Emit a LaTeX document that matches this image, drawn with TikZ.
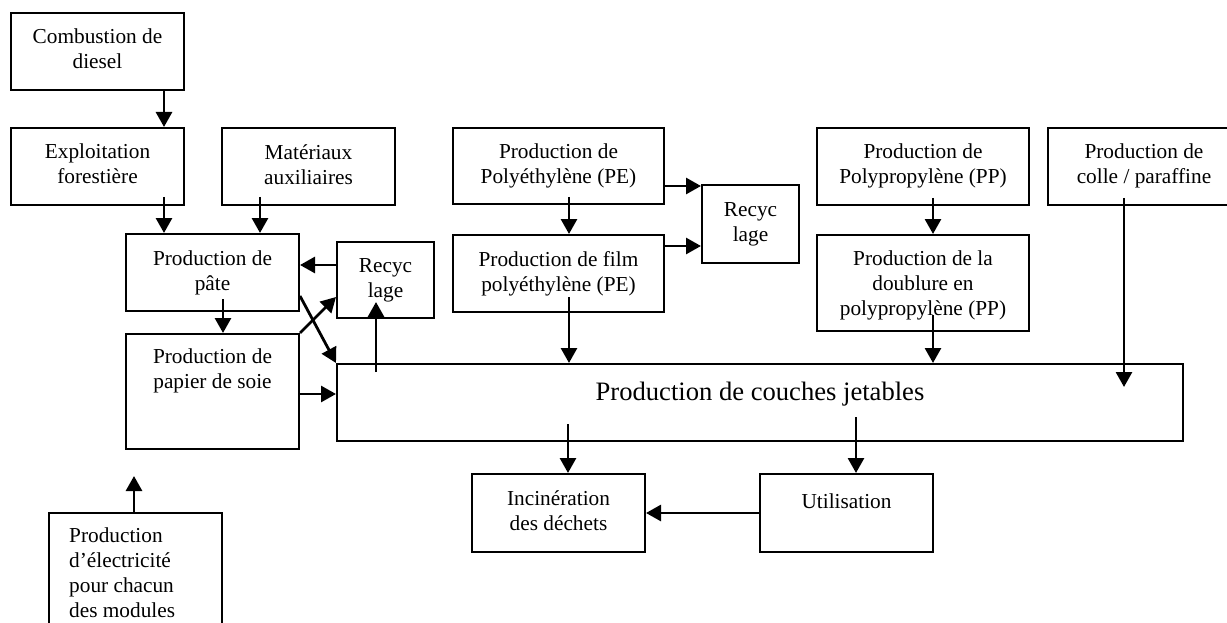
\documentclass[tikz,border=0pt]{standalone}
\usepackage{fontspec}
\setmainfont{Liberation Serif}
\usetikzlibrary{arrows.meta,calc}
\begin{document}
\begin{tikzpicture}[x=1pt,y=-1pt,
  box/.style={draw, line width=2pt, rectangle, anchor=north west, inner sep=0pt},
  lbl/.style={inner sep=0pt, align=center, anchor=north,
    font=\fontsize{21.3pt}{25pt}\selectfont, execute at begin node={\rule{0pt}{18pt}}},
  lbll/.style={lbl, align=left, anchor=north west},
  big/.style={inner sep=0pt, anchor=base, font=\fontsize{26.6pt}{31pt}\selectfont},
  arr/.style={line width=2.8pt, -{Triangle[length=15pt,width=16pt]}}]

% page frame
\path[use as bounding box, clip] (0,0) rectangle (1227,623);
\fill[white] (0,0) rectangle (1227,623);

% process boxes
\node[box, minimum width=173pt, minimum height=77pt]  (diesel)   at (10,12)   {};
\node[box, minimum width=173pt, minimum height=77pt]  (exploit)  at (10,127)  {};
\node[box, minimum width=173pt, minimum height=77pt]  (aux)      at (221,127) {};
\node[box, minimum width=173pt, minimum height=77pt]  (pate)     at (125,233) {};
\node[box, minimum width=173pt, minimum height=115pt] (papier)   at (125,333) {};
\node[box, minimum width=97pt,  minimum height=76pt]  (recyc1)   at (336,241) {};
\node[box, minimum width=211pt, minimum height=76pt]  (pe)       at (452,127) {};
\node[box, minimum width=211pt, minimum height=77pt]  (film)     at (452,234) {};
\node[box, minimum width=97pt,  minimum height=78pt]  (recyc2)   at (701,184) {};
\node[box, minimum width=212pt, minimum height=77pt]  (pp)       at (816,127) {};
\node[box, minimum width=212pt, minimum height=96pt]  (doublure) at (816,234) {};
\node[box, minimum width=192pt, minimum height=77pt]  (colle)    at (1047,127) {};
\node[box, minimum width=846pt, minimum height=77pt]  (couches)  at (336,363) {};
\node[box, minimum width=173pt, minimum height=78pt]  (incin)    at (471,473) {};
\node[box, minimum width=173pt, minimum height=78pt]  (util)     at (759,473) {};
\node[box, minimum width=173pt, minimum height=130pt] (elec)     at (48,512)  {};

% box texts
\node[lbl] (dieselT)   at ($(diesel.north)+(0,17)$)   {Combustion de\\diesel};
\node[lbl] (exploitT)  at ($(exploit.north)+(0,17)$)  {Exploitation\\forestière};
\node[lbl] (auxT)      at ($(aux.north)+(0,17)$)      {Matériaux\\auxiliaires};
\node[lbl] (pateT)     at ($(pate.north)+(0,17.5)$)   {Production de\\pâte};
\node[lbl] (papierT)   at ($(papier.north)+(0,16)$)   {Production de\\papier de soie};
\node[lbl] (recyc1T)   at ($(recyc1.north)+(0,17)$)   {Recyc\\lage};
\node[lbl] (peT)       at ($(pe.north)+(0,17)$)       {Production de\\Polyéthylène (PE)};
\node[lbl] (filmT)     at ($(film.north)+(0,17.5)$)   {Production de film\\polyéthylène (PE)};
\node[lbl] (recyc2T)   at ($(recyc2.north)+(0,18.5)$) {Recyc\\lage};
\node[lbl] (ppT)       at ($(pp.north)+(0,17)$)       {Production de\\Polypropylène (PP)};
\node[lbl] (doublureT) at ($(doublure.north)+(0,17)$) {Production de la\\doublure en\\polypropylène (PP)};
\node[lbl] (colleT)    at ($(colle.north)+(0,17)$)    {Production de\\colle / paraffine};
\node[big] (couchesT)  at ($(couches.north)+(0,37)$)  {Production de couches jetables};
\node[lbl] (incinT)    at ($(incin.north)+(0,17)$)    {Incinération\\des déchets};
\node[lbl] (utilT)     at ($(util.north)+(0,17)$)     {Utilisation};
\node[lbll] (elecT)    at ($(elec.north west)+(21,16)$) {Production\\d’électricité\\pour chacun\\des modules};

% flows
\draw[arr] ($(diesel.south)+(66.5,0)$) -- ($(exploit.north)+(66.5,0)$);
\draw[arr] ($(exploit.south)+(66.5,-9)$) -- ($(pate.north)+(-48.5,0)$);
\draw[arr] ($(aux.south)+(-48.5,-9)$) -- ($(pate.north)+(47.5,0)$);
\draw[arr] ($(pate.south)+(10.5,-13)$) -- ($(papier.north)+(10.5,0)$);
\draw[arr] ($(recyc1.west)+(0,-15)$) -- ($(pate.east)+(0,-7.5)$);
\draw[arr] (papier.north east) -- ($(recyc1.west)+(0,17)$);
\draw[arr] ($(pate.east)+(0,23.5)$) -- (couches.north west);
\draw[arr] ($(papier.east)+(0,2.5)$) -- ($(couches.west)+(0,-8.5)$);
\draw[arr] ($(couches.north)+(-384,9)$) -- ($(recyc1.south)+(-9.5,-17)$);
\draw[arr] ($(pe.south)+(10.5,-8)$) -- ($(film.north)+(10.5,0)$);
\draw[arr] ($(pe.east)+(0,20)$) -- ($(recyc2.west)+(0,-38)$);
\draw[arr] ($(film.east)+(0,-27.5)$) -- ($(recyc2.west)+(0,22)$);
\draw[arr] ($(film.south)+(10.5,-16)$) -- ($(couches.north)+(-191,0)$);
\draw[arr] ($(pp.south)+(10,-8)$) -- ($(doublure.north)+(10,0)$);
\draw[arr] ($(doublure.south)+(10,-17)$) -- ($(couches.north)+(173,0)$);
\draw[arr] ($(colle.south)+(-20,-8)$) -- ($(couches.north)+(364,24)$);
\draw[arr] ($(couches.south)+(-192,-18)$) -- ($(incin.north)+(9.5,0)$);
\draw[arr] ($(couches.south)+(96,-25)$) -- ($(util.north)+(9.5,0)$);
\draw[arr] (util.west) -- (incin.east);
\draw[arr] ($(elec.north)+(-1.5,0)$) -- ($(papier.south)+(-78.5,26)$);
\end{tikzpicture}
\end{document}
